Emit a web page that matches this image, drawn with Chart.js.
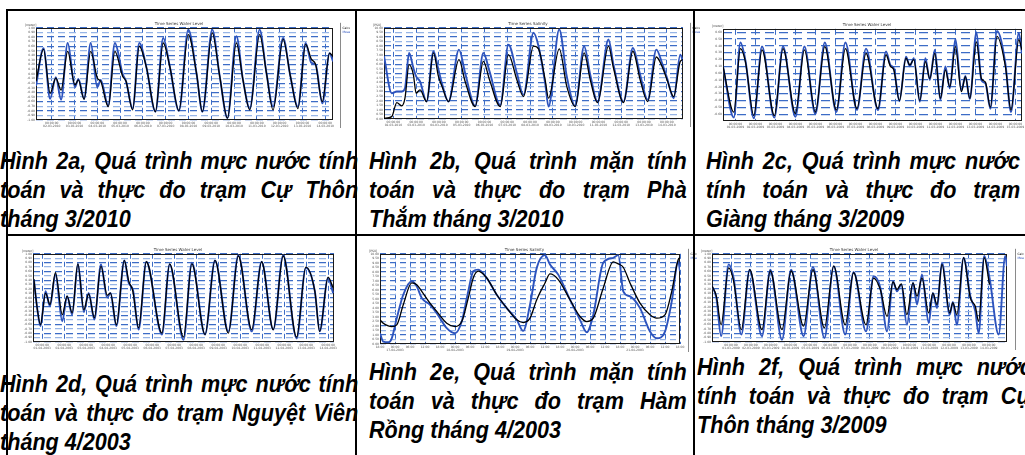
<!DOCTYPE html>
<html>
<head>
<meta charset="utf-8">
<script src="https://cdn.jsdelivr.net/npm/chart.js@4.4.0/dist/chart.umd.min.js"></script>
<style>
html, body { margin: 0; padding: 0; background: #fff; width: 1025px; height: 455px; overflow: hidden; }
canvas { position: absolute; }
.ln { position: absolute; background: #000; z-index: 5; }
.cap { position: absolute; z-index: 2; color: #000; transform-origin: 0 0; transform: scaleX(0.9);
  font-family: "Liberation Sans", Arial, sans-serif;
  font-weight: bold; font-style: italic; font-size: 24px; line-height: 29px; }
.cap div { white-space: nowrap; text-align: justify; text-align-last: justify; }
.cap div.last { text-align-last: left; }
</style>
</head>
<body>
<canvas id="c2a"></canvas>
<canvas id="c2b"></canvas>
<canvas id="c2c"></canvas>
<canvas id="c2d"></canvas>
<canvas id="c2e"></canvas>
<canvas id="c2f"></canvas>

<div class="cap" style="left:0px;top:146px;width:398px">
  <div>Hình 2a, Quá trình mực nước tính</div>
  <div>toán và thực đo trạm Cự Thôn</div>
  <div class="last">tháng 3/2010</div>
</div>
<div class="cap" style="left:369px;top:146px;width:353px">
  <div>Hình 2b, Quá trình mặn tính</div>
  <div>toán và thực đo trạm Phà</div>
  <div class="last">Thắm tháng 3/2010</div>
</div>
<div class="cap" style="left:706px;top:146px;width:349px">
  <div>Hình 2c, Quá trình mực nước</div>
  <div>tính toán và thực đo trạm</div>
  <div class="last">Giàng tháng 3/2009</div>
</div>
<div class="cap" style="left:0px;top:369px;width:398px">
  <div>Hình 2d, Quá trình mực nước tính</div>
  <div>toán và thực đo trạm Nguyệt Viên</div>
  <div class="last">tháng 4/2003</div>
</div>
<div class="cap" style="left:369px;top:357px;width:353px">
  <div>Hình 2e, Quá trình mặn tính</div>
  <div>toán và thực đo trạm Hàm</div>
  <div class="last">Rồng tháng 4/2003</div>
</div>
<div class="cap" style="left:697px;top:352px;width:372px">
  <div>Hình 2f, Quá trình mực nước</div>
  <div>tính toán và thực đo trạm Cự</div>
  <div class="last">Thôn tháng 3/2009</div>
</div>

<!-- table rules -->
<div class="ln" style="left:6px;top:9px;width:1019px;height:2px"></div>
<div class="ln" style="left:6px;top:234px;width:1019px;height:2px"></div>
<div class="ln" style="left:6px;top:9px;width:2px;height:446px"></div>
<div class="ln" style="left:355px;top:9px;width:2px;height:446px"></div>
<div class="ln" style="left:693px;top:9px;width:2px;height:446px"></div>

<script>
Chart.defaults.font.family = 'DejaVu Sans';

// ---- Hình 2a : mực nước Cự Thôn 3/2010 (ngày) ----
const t2a = [-0.69,-0.36,-0.07,0.18,0.41,0.70,1.02,1.17,1.42,1.71,2.0,2.15,2.48,2.77,3.11,3.26,3.55,3.84,4.16,4.55,4.89,5.18,5.58,5.99,6.35,6.61,7.04,7.37,7.71,8.10,8.39,8.69,9.12,9.42,9.71,10.15,10.47,10.80,11.14,11.39,11.58,11.87,12.19,12.34];
const calc2a = [-0.16,0.53,-0.42,-0.09,-0.35,0.49,-0.24,-0.13,-0.55,0.49,-0.09,-0.16,-0.71,0.49,-0.05,-0.16,-0.78,0.60,0.13,-0.82,0.67,0.16,-0.80,0.85,0.02,-0.82,0.89,-0.05,-0.96,0.67,-0.13,-0.78,0.85,0.02,-0.78,0.75,-0.05,-0.75,0.64,0.32,0.20,-0.60,0.45,0.38];
const meas2a = [-0.26,0.56,-0.54,-0.07,-0.56,0.67,-0.29,-0.11,-0.54,0.67,-0.29,-0.13,-0.69,0.67,0.00,-0.16,-0.75,0.67,0.13,-0.82,0.78,0.16,-0.80,0.96,0.02,-0.82,0.96,-0.05,-0.96,0.82,-0.13,-0.75,0.96,0.02,-0.71,0.78,-0.05,-0.71,0.67,0.24,0.20,-0.64,0.45,0.27];
const days2a = ['02-03-2010','03-03-2010','04-03-2010','05-03-2010','06-03-2010','07-03-2010','08-03-2010','09-03-2010','10-03-2010','11-03-2010','12-03-2010','13-03-2010','14-03-2010'];

// ---- Hình 2b : mặn Phà Thắm 3/2010 ----
const t2b = [-0.41,-0.07,0.15,0.37,0.51,0.69,0.88,1.00,1.17,1.46,1.76,1.98,2.15,2.42,2.88,3.15,3.59,3.95,4.22,4.69,5.05,5.42,5.71,6.15,6.37,6.66,6.81,7.28,7.61,7.98,8.37,8.64,8.96,9.44,9.66,10.10,10.51,10.83,11.16,11.54,11.79,12.01,12.30,12.59,12.71];
const calc2b = [0.07,0.26,1.80,1.43,2.28,5.96,4.85,2.83,3.20,1.91,7.24,4.67,3.49,1.91,6.51,4.12,1.36,6.32,4.30,1.36,7.06,4.30,2.46,7.98,7.68,4.30,2.28,7.68,3.57,1.36,7.24,4.30,1.80,7.98,5.59,1.80,7.43,4.30,1.91,6.80,5.77,4.30,2.46,6.32,6.51];
const meas2b = [6.88,2.83,3.01,3.01,3.38,7.24,5.59,4.67,4.12,1.91,7.43,5.40,3.75,1.91,7.61,5.04,1.43,7.24,5.22,1.54,8.16,5.04,2.65,9.45,7.98,3.93,1.36,9.81,4.67,1.43,7.98,4.85,1.91,8.71,5.96,1.91,7.79,4.85,2.10,7.61,6.14,4.49,2.28,7.06,6.32];
const days2b = ['02-03-2010','03-03-2010','04-03-2010','05-03-2010','06-03-2010','07-03-2010','08-03-2010','09-03-2010','10-03-2010','11-03-2010','12-03-2010','13-03-2010','14-03-2010'];

// ---- Hình 2c : mực nước Giàng 3/2009 ----
const t2c = [-0.62,-0.08,0.25,0.50,0.92,1.33,1.95,2.38,3.00,3.45,4.00,4.47,5.05,5.50,6.08,6.53,7.13,7.53,7.75,7.92,8.20,8.53,8.72,8.92,9.22,9.50,9.72,9.97,10.25,10.50,10.72,11.00,11.30,11.50,11.72,12.05,12.30,12.50,12.75,13.08,13.50,13.78,14.17,14.33];
const calc2c = [0.10,-0.57,0.36,0.17,-0.62,0.34,-0.62,0.36,-0.59,0.34,-0.57,0.39,-0.54,0.36,-0.52,0.29,-0.52,0.27,0.10,0.05,-0.40,0.22,0.12,0.20,-0.40,0.17,-0.08,0.29,-0.37,0.05,-0.20,0.39,-0.27,-0.05,-0.37,0.46,-0.08,-0.13,-0.50,0.54,0.10,-0.54,0.49,0.34];
const meas2c = [0.10,-0.65,0.45,0.19,-0.66,0.39,-0.65,0.39,-0.64,0.39,-0.60,0.45,-0.57,0.45,-0.54,0.36,-0.54,0.32,0.12,0.07,-0.41,0.24,0.10,0.22,-0.42,0.22,-0.10,0.34,-0.39,0.10,-0.22,0.50,-0.25,-0.04,-0.38,0.60,-0.10,-0.15,-0.52,0.62,0.14,-0.57,0.59,0.29];
const days2c = ['01-03-2009','02-03-2009','03-03-2009','04-03-2009','05-03-2009','06-03-2009','07-03-2009','08-03-2009','09-03-2009','10-03-2009','11-03-2009','12-03-2009','13-03-2009','14-03-2009','15-03-2009'];

// ---- Hình 2d : mực nước Nguyệt Viên 4/2003 ----
const t2d = [-0.38,-0.23,-0.08,0.15,0.35,0.60,0.91,1.13,1.36,1.62,1.89,2.11,2.37,2.67,2.95,3.10,3.37,3.73,3.93,4.12,4.38,4.73,5.44,5.79,6.42,6.80,7.40,7.85,8.46,8.91,9.52,9.97,10.50,10.95,11.56,11.98,12.39,12.61,12.99,13.22];
const calc2d = [0.42,-0.23,-0.61,0.11,-0.15,0.57,-0.38,0.04,-0.34,0.77,-0.27,0.09,-0.45,0.72,0.06,0.11,-0.61,0.85,0.38,0.15,-0.68,0.82,-0.80,0.77,-0.89,0.77,-0.83,0.85,-0.80,0.95,-0.72,0.82,-0.72,0.95,-0.89,0.70,0.15,-0.76,0.47,0.23];
const meas2d = [0.42,-0.23,-0.64,0.15,-0.19,0.53,-0.53,0.04,-0.38,0.77,-0.32,0.11,-0.49,0.76,0.00,0.11,-0.64,0.85,0.34,0.19,-0.72,0.82,-0.83,0.76,-0.95,0.80,-0.83,0.85,-0.76,0.97,-0.76,0.82,-0.72,0.97,-0.92,0.68,0.15,-0.76,0.45,0.11];
const days2d = ['01-04-2003','02-04-2003','03-04-2003','04-04-2003','05-04-2003','06-04-2003','07-04-2003','08-04-2003','09-04-2003','10-04-2003','11-04-2003','12-04-2003','13-04-2003','14-04-2003'];

// ---- Hình 2e : mặn Hàm Rồng 4/2003 (giờ) ----
const t2e = [0,1.3,3.3,4.7,6.7,9.3,12.7,14.7,16.7,20,22.7,26.7,30,32.7,35.3,37.3,39.3,42.7,46.7,50.7,54.7,57.3,60,62.7,66,68,71.3,76,80,82.7,85.3,89.3,93.3,95.3,97.3,100,104,108,110.7,114,116.7,119.3,120];
const calc2e = [2.68,2.30,2.01,1.93,2.12,4.35,6.77,6.58,5.84,4.53,3.61,2.30,1.93,2.49,5.09,7.32,8.07,7.32,5.46,3.98,2.68,2.38,2.86,4.91,6.77,7.77,7.14,4.91,3.05,2.49,2.86,6.21,9.11,8.88,8.51,6.77,4.53,3.23,2.86,3.23,5.84,9.37,9.55];
const meas2e = [1.19,0.26,0.19,0.63,2.86,5.46,6.95,6.39,5.09,4.35,3.42,1.75,1.19,2.49,5.84,8.07,8.25,7.32,5.46,3.98,2.68,1.45,4.35,8.44,9.85,8.81,7.69,4.91,2.68,1.30,3.23,9.00,9.55,9.85,5.84,5.28,3.98,1.38,0.63,1.38,4.72,9.18,8.07];
const hours2e = ['18:00','00:00','06:00','12:00','18:00','00:00','06:00','12:00','18:00','00:00','06:00','12:00','18:00','00:00','06:00','12:00','18:00','00:00','06:00','12:00','18:00'];
const dates2e = ['','17-04-2003','','','','18-04-2003','','','','19-04-2003','','','','20-04-2003','','','','21-04-2003','','',''];

// ---- Hình 2f : mực nước Cự Thôn 3/2009 ----
const t2f = [-0.96,-0.74,-0.50,-0.12,0.13,0.52,0.94,1.56,1.98,2.57,3.03,3.66,4.13,4.71,5.18,5.76,6.18,6.81,7.19,7.53,7.87,8.17,8.37,8.59,8.87,9.18,9.38,9.63,9.97,10.18,10.39,10.64,11.03,11.19,11.39,11.73,12.07,12.32,12.49,12.77,13.04,13.50,13.83,13.92];
const calc2f = [0.27,0.04,-0.61,0.68,0.38,-0.72,0.64,-0.72,0.61,-0.72,0.61,-0.64,0.64,-0.68,0.72,-0.61,0.57,-0.61,0.45,0.19,-0.42,0.36,0.19,0.32,-0.38,0.34,0.04,0.45,-0.34,0.11,-0.15,0.76,-0.34,-0.11,-0.38,0.91,0.00,-0.19,-0.53,0.91,0.30,null,null,null];
const meas2f = [0.27,0.00,-0.87,0.76,0.45,-0.83,0.64,-0.87,0.64,-0.95,0.64,-0.87,0.70,-0.91,0.72,-0.83,0.59,-0.76,0.49,0.23,-0.76,0.38,0.15,0.30,-0.61,0.34,-0.15,0.53,-0.57,0.11,-0.23,0.80,-0.38,-0.09,-0.61,0.91,0.04,-0.30,-0.80,0.95,0.45,-0.83,0.95,0.72];
const days2f = ['01-03-2009','02-03-2009','03-03-2009','04-03-2009','05-03-2009','06-03-2009','07-03-2009','08-03-2009','09-03-2009','10-03-2009','11-03-2009','12-03-2009','13-03-2009','14-03-2009'];

// khung, don vi va chu thich nho
const framePlugin = {
  id: 'frame',
  beforeDatasetsDraw(chart) {
    const { ctx, chartArea: a } = chart;
    ctx.save();
    ctx.strokeStyle = '#1a1a1a';
    ctx.lineWidth = 1;
    ctx.strokeRect(Math.round(a.left) + 0.5, Math.round(a.top) + 0.5, Math.round(a.width) - 1, Math.round(a.height) - 1);
    ctx.restore();
  },
  afterDraw(chart, args, opts) {
    const { ctx, chartArea: a } = chart;
    ctx.save();
    ctx.font = '3px "DejaVu Sans"';
    ctx.fillStyle = '#444';
    ctx.fillText(opts.unit, a.left - 11, a.top - 2);
    if (opts.legend) {
      const x = Math.round(a.right + opts.gap) + 0.5;
      ctx.strokeStyle = '#8a8a8a';
      ctx.lineWidth = 1;
      ctx.beginPath();
      ctx.moveTo(x, a.top - 5);
      ctx.lineTo(x, a.bottom + 8);
      ctx.stroke();
      chart.data.datasets.forEach((ds, i) => {
        ctx.fillStyle = ds.borderColor;
        ctx.fillText(ds.label, x + 2, a.top + 1 + i * 4);
      });
    }
    ctx.restore();
  }
};

function panel(id, pos, p) {
  const cv = document.getElementById(id);
  cv.width = pos.w; cv.height = pos.h;
  cv.style.left = pos.x + 'px'; cv.style.top = pos.y + 'px';
  return new Chart(cv, {
    type: 'line',
    data: {
      datasets: [
        { label: 'Calculated', data: p.t.map((x, i) => ({ x: x, y: p.calc[i] })), borderColor: '#000000',
          borderWidth: 1.3, pointRadius: 0, cubicInterpolationMode: 'monotone', spanGaps: false },
        { label: 'Measured', data: p.t.map((x, i) => ({ x: x, y: p.meas[i] })), borderColor: '#2d53bd',
          borderWidth: 1.9, pointRadius: 0, cubicInterpolationMode: 'monotone' }
      ]
    },
    options: {
      responsive: false, animation: false, events: [],
      layout: { padding: { left: 1, top: 0, right: pos.r, bottom: 0 } },
      plugins: {
        legend: { display: false },
        tooltip: { enabled: false },
        title: { display: true, text: p.title, color: '#333', font: { size: 4, weight: 'normal' }, padding: { top: 1, bottom: 1 } },
        frame: { unit: p.unit, legend: pos.legend, gap: pos.gap }
      },
      scales: {
        x: {
          type: 'linear', min: p.xMin, max: p.xMax,
          afterBuildTicks: s => { s.ticks = p.xTicks.map(v => ({ value: v })); },
          afterFit: s => { s.height = 9; s.paddingLeft = 0; s.paddingRight = 0; },
          ticks: { font: { size: 3 }, color: '#555', padding: 1, maxRotation: 0, autoSkip: false,
                   callback: (v, i) => p.xLabels[i] },
          grid: { color: '#3c6cc6', lineWidth: 1, drawTicks: false },
          border: { display: false, dash: p.vDash }
        },
        y: {
          min: p.yMin, max: p.yMax,
          afterFit: s => { s.width = 11; },
          ticks: { stepSize: p.yStep, includeBounds: false, autoSkip: false, font: { size: 3 }, color: '#555', padding: 1,
                   callback: v => v.toFixed(2) },
          grid: { color: c => (p.twoTone && c.index % 2 ? '#97b5e6' : '#3c6cc6'), lineWidth: p.hWidth, drawTicks: false },
          border: { display: false, dash: p.hDash }
        }
      }
    },
    plugins: [framePlugin]
  });
}

const dayTicks = n => Array.from({ length: n }, (_, i) => i);
const withTime = d => d.map(s => ['00:00:00', s]);

panel('c2a', { x: 24, y: 21, w: 326, h: 108, r: 17, legend: true, gap: 7 },
  { t: t2a, calc: calc2a, meas: meas2a, title: 'Time Series Water Level', unit: '[meter]',
    xMin: -0.69, xMax: 12.34, xTicks: dayTicks(13), xLabels: withTime(days2a),
    yMin: -1, yMax: 1, yStep: 0.1, hDash: [7, 4], vDash: [5, 3], hWidth: 1.2, twoTone: true });

panel('c2b', { x: 372, y: 21, w: 328, h: 107, r: 17, legend: true, gap: 7 },
  { t: t2b, calc: calc2b, meas: meas2b, title: 'Time Series Salinity', unit: '[PSU]',
    xMin: -0.41, xMax: 12.71, xTicks: dayTicks(13), xLabels: withTime(days2b),
    yMin: 0, yMax: 10, yStep: 0.5, hDash: [7, 4], vDash: [5, 3], hWidth: 1.2, twoTone: true });

panel('c2c', { x: 711, y: 22, w: 328, h: 108, r: 17, legend: true, gap: 7 },
  { t: t2c, calc: calc2c, meas: meas2c, title: 'Time Series Water Level', unit: '[meter]',
    xMin: -0.62, xMax: 14.33, xTicks: dayTicks(15), xLabels: withTime(days2c),
    yMin: -0.7, yMax: 0.65, yStep: 0.1, hDash: [9, 5], vDash: [6, 4], hWidth: 1.3, twoTone: false });

panel('c2d', { x: 21, y: 247, w: 318, h: 104, r: 5, legend: false, gap: 7 },
  { t: t2d, calc: calc2d, meas: meas2d, title: 'Time Series Water Level', unit: '[meter]',
    xMin: -0.42, xMax: 13.26, xTicks: dayTicks(14), xLabels: withTime(days2d),
    yMin: -1, yMax: 1, yStep: 0.1, hDash: [7, 4], vDash: [5, 3], hWidth: 1.2, twoTone: true });

panel('c2e', { x: 368, y: 247, w: 329, h: 106, r: 17, legend: true, gap: 8 },
  { t: t2e, calc: calc2e, meas: meas2e, title: 'Time Series Salinity', unit: '[PSU]',
    xMin: 0, xMax: 120, xTicks: hours2e.map((_, i) => i * 6), xLabels: hours2e.map((h, i) => [h, dates2e[i]]),
    yMin: 0, yMax: 10, yStep: 0.5, hDash: [6, 4], vDash: [5, 3], hWidth: 1.2, twoTone: true });

panel('c2f', { x: 700, y: 247, w: 324, h: 104, r: 17, legend: true, gap: 8 },
  { t: t2f, calc: calc2f, meas: meas2f, title: 'Time Series Water Level', unit: '[meter]',
    xMin: -0.96, xMax: 13.92, xTicks: dayTicks(14), xLabels: withTime(days2f),
    yMin: -1, yMax: 1, yStep: 0.1, hDash: [7, 4], vDash: [5, 3], hWidth: 1.2, twoTone: true });
</script>
</body>
</html>
